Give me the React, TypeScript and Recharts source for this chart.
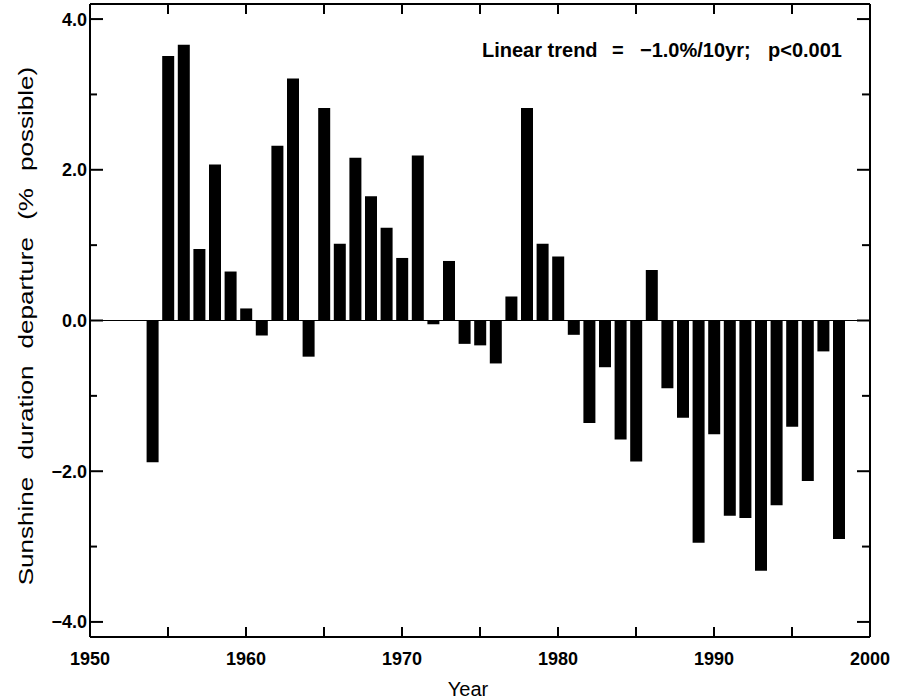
import React from 'react';
import { ComposedChart, Bar, Line, XAxis, YAxis, ReferenceLine } from 'recharts';

const years = [
  1954, 1955, 1956, 1957, 1958, 1959, 1960, 1961, 1962, 1963, 1964, 1965, 1966, 1967, 1968,
  1969, 1970, 1971, 1972, 1973, 1974, 1975, 1976, 1977, 1978, 1979, 1980, 1981, 1982, 1983,
  1984, 1985, 1986, 1987, 1988, 1989, 1990, 1991, 1992, 1993, 1994, 1995, 1996, 1997, 1998,
];
const departures = [
  -1.88, 3.51, 3.66, 0.95, 2.07, 0.65, 0.16, -0.2, 2.32, 3.21, -0.48, 2.82, 1.02, 2.16, 1.65,
  1.23, 0.83, 2.19, -0.05, 0.79, -0.31, -0.33, -0.57, 0.32, 2.82, 1.02, 0.85, -0.19, -1.36, -0.62,
  -1.58, -1.87, 0.67, -0.9, -1.29, -2.95, -1.51, -2.59, -2.62, -3.32, -2.45, -1.41, -2.13, -0.41, -2.9,
];
const xTicks = [1950, 1955, 1960, 1965, 1970, 1975, 1980, 1985, 1990, 1995, 2000];
const yTicks = [-4, -3, -2, -1, 0, 1, 2, 3, 4];
const xDomain = [1950, 2000];
const yDomain = [-4.2, 4.2];

const data = years.map((year, i) => ({ year, value: departures[i] }));

const FONT = '"Liberation Sans", Arial, Helvetica, sans-serif';

const fmtY = (v: number) => (v < 0 ? `\u2212${Math.abs(v).toFixed(1)}` : v.toFixed(1));

const BottomTick = (props: any) => {
  const { x, y, payload } = props;
  const v = payload.value;
  return (
    <g>
      <line x1={x} x2={x} y1={y} y2={y - 10} stroke="#000" strokeWidth={2} />
      {v % 10 === 0 && (
        <text x={x} y={y + 28} textAnchor="middle" fontFamily={FONT} fontWeight="bold" fontSize={18} fill="#000">
          {v}
        </text>
      )}
    </g>
  );
};

const TopTick = (props: any) => {
  const { x, y } = props;
  return <line x1={x} x2={x} y1={y} y2={y + 10} stroke="#000" strokeWidth={2} />;
};

const LeftTick = (props: any) => {
  const { x, y, payload } = props;
  const v = payload.value;
  const major = v % 2 === 0;
  return (
    <g>
      <line x1={x} x2={x + (major ? 13 : 7)} y1={y} y2={y} stroke="#000" strokeWidth={2} />
      {major && (
        <text x={x - 3} y={y + 6.5} textAnchor="end" fontFamily={FONT} fontWeight="bold" fontSize={18} fill="#000">
          {fmtY(v)}
        </text>
      )}
    </g>
  );
};

const RightTick = (props: any) => {
  const { x, y, payload } = props;
  const major = payload.value % 2 === 0;
  return <line x1={x} x2={x - (major ? 13 : 8)} y1={y} y2={y} stroke="#000" strokeWidth={2} />;
};

export default function App() {
  return (
    <div style={{ position: 'absolute', left: 0, top: 0, background: '#fff' }}>
      <ComposedChart width={897} height={700} data={data} margin={{ top: 0, right: 0, bottom: 0, left: 0 }}>
        <XAxis
          xAxisId="b"
          dataKey="year"
          type="number"
          domain={xDomain}
          allowDataOverflow
          ticks={xTicks}
          interval={0}
          orientation="bottom"
          height={63}
          tickSize={0}
          tickMargin={0}
          tickLine={false}
          axisLine={{ stroke: '#000', strokeWidth: 2 }}
          tick={(p: any) => <BottomTick {...p} />}
        />
        <XAxis
          xAxisId="t"
          dataKey="year"
          type="number"
          domain={xDomain}
          allowDataOverflow
          ticks={xTicks.slice(1, -1)}
          interval={0}
          orientation="top"
          height={4}
          tickSize={0}
          tickMargin={0}
          tickLine={false}
          axisLine={{ stroke: '#000', strokeWidth: 2 }}
          tick={(p: any) => <TopTick {...p} />}
        />
        <YAxis
          yAxisId="l"
          type="number"
          domain={yDomain}
          allowDataOverflow
          ticks={yTicks}
          interval={0}
          orientation="left"
          width={90}
          tickSize={0}
          tickMargin={0}
          tickLine={false}
          axisLine={{ stroke: '#000', strokeWidth: 2 }}
          tick={(p: any) => <LeftTick {...p} />}
        />
        <YAxis
          yAxisId="r"
          type="number"
          domain={yDomain}
          allowDataOverflow
          ticks={yTicks}
          interval={0}
          orientation="right"
          width={27}
          tickSize={0}
          tickMargin={0}
          tickLine={false}
          axisLine={{ stroke: '#000', strokeWidth: 2 }}
          tick={(p: any) => <RightTick {...p} />}
        />
        <ReferenceLine xAxisId="b" yAxisId="l" y={0} stroke="#000" strokeWidth={1} />
        <Bar xAxisId="b" yAxisId="l" dataKey="value" fill="#000" barSize={12} isAnimationActive={false} />
        <Line
          xAxisId="t"
          yAxisId="r"
          dataKey="value"
          stroke="none"
          dot={false}
          activeDot={false}
          legendType="none"
          isAnimationActive={false}
        />
        <text x={468} y={696} textAnchor="middle" fontFamily={FONT} fontSize={20} fill="#000">
          Year
        </text>
        <text
          x={0}
          y={0}
          transform="translate(33 326) rotate(-90) scale(1.24 1)"
          textAnchor="middle"
          fontFamily={FONT}
          fontSize={21}
          fill="#000"
          wordSpacing={8}
        >
          Sunshine duration departure (% possible)
        </text>
        <text y={57} fontFamily={FONT} fontWeight="bold" fontSize={20} fill="#000">
          <tspan x={482}>Linear trend</tspan>
          <tspan x={612}>=</tspan>
          <tspan x={640}>{'\u22121.0%/10yr;'}</tspan>
          <tspan x={768}>{'p<0.001'}</tspan>
        </text>
      </ComposedChart>
    </div>
  );
}
